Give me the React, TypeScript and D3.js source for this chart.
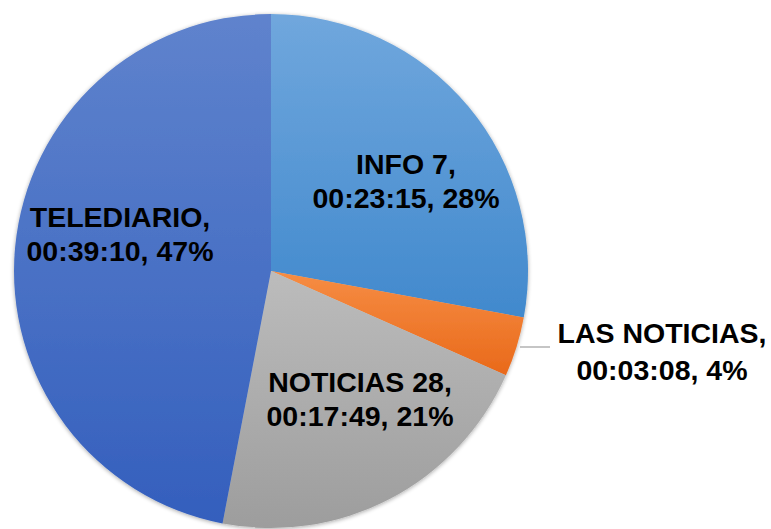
import React from "react";
import * as d3 from "d3";

const categories = ["INFO 7", "LAS NOTICIAS", "NOTICIAS 28", "TELEDIARIO"];
const durations = ["00:23:15", "00:03:08", "00:17:49", "00:39:10"];
const seconds = [1395, 188, 1069, 2350];
const percents = ["28%", "4%", "21%", "47%"];

const colorsTop = ["#70a7dd", "#f68d44", "#bcbcbc", "#5f83cd"];
const colorsBottom = ["#4189cd", "#e9691a", "#9d9d9d", "#345fbd"];

const W = 771;
const H = 529;
const cx = 271;
const cy = 271;
const R = 257;

// label anchor positions (center of text block, first baseline)
const labelPos: [number, number][] = [
  [406, 174],
  [662, 343],
  [360, 392],
  [120, 227],
];

export default function App() {
  const pie = d3.pie<number>().sort(null).value((d) => d);
  const arcs = pie(seconds);
  const arc = d3.arc<d3.PieArcDatum<number>>().innerRadius(0).outerRadius(R);
  const lineH = 34;
  return (
    <svg
      width={W}
      height={H}
      style={{ position: "absolute", left: 0, top: 0, background: "#fff" }}
    >
      <defs>
        {categories.map((c, i) => (
          <linearGradient key={c} id={`g${i}`} x1="0" y1="0" x2="0" y2="1">
            <stop offset="0%" stopColor={colorsTop[i]} />
            <stop offset="100%" stopColor={colorsBottom[i]} />
          </linearGradient>
        ))}
        <filter id="sh" x="-10%" y="-10%" width="120%" height="120%">
          <feGaussianBlur in="SourceAlpha" stdDeviation="2" />
          <feOffset dx="0" dy="1" result="b" />
          <feComponentTransfer>
            <feFuncA type="linear" slope="0.35" />
          </feComponentTransfer>
          <feMerge>
            <feMergeNode />
            <feMergeNode in="SourceGraphic" />
          </feMerge>
        </filter>
      </defs>
      <g transform={`translate(${cx},${cy})`} filter="url(#sh)">
        {arcs.map((a, i) => (
          <path key={i} d={arc(a) ?? ""} fill={`url(#g${i})`} />
        ))}
      </g>
      <line x1={520} y1={347} x2={550} y2={347} stroke="#a6a6a6" strokeWidth={1.3} />
      {categories.map((c, i) => (
        <text
          key={c}
          textAnchor="middle"
          fontFamily="'Liberation Sans', Arial, sans-serif"
          fontWeight="bold"
          fontSize={28.5}
          fill="#000"
        >
          <tspan x={labelPos[i][0]} y={labelPos[i][1]}>
            {c},
          </tspan>
          <tspan x={labelPos[i][0]} y={labelPos[i][1] + (i === 1 ? 37 : lineH)}>
            {durations[i]}, {percents[i]}
          </tspan>
        </text>
      ))}
    </svg>
  );
}
